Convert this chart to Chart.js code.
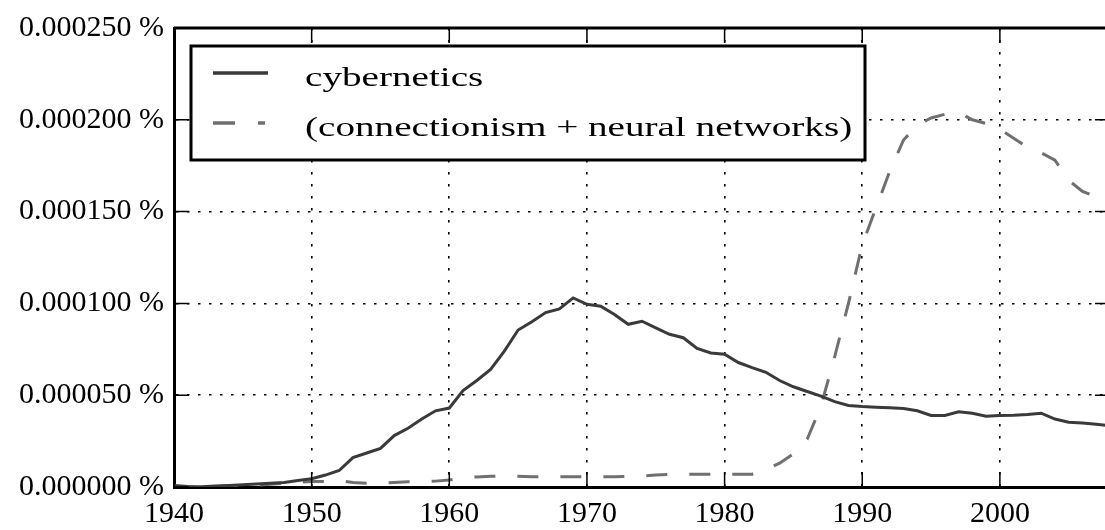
<!DOCTYPE html>
<html>
<head>
<meta charset="utf-8">
<script src="https://cdn.jsdelivr.net/npm/chart.js@4.4.1/dist/chart.umd.min.js"></script>
<style>
  html, body { margin: 0; padding: 0; overflow: hidden; background: #fff; }
  #wrap { position: relative; width: 1112px; height: 530px; }
</style>
</head>
<body>
<div id="wrap"><canvas id="chart"></canvas></div>
<script>
const years = [];
for (let yr = 1940; yr <= 2008; yr++) years.push(yr);

// values in millionths of a percent (100 = 0.000100 %)
const cybernetics = [
  0.8, 0.3, 0.2, 0.5, 0.8, 1.2, 1.6, 2.0, 2.5, 3.5,
  4.5, 6.5, 9.0, 16, 18.5, 21, 28, 32, 37, 41.5,
  43, 52.5, 58, 64, 74, 85.5, 90, 95, 97, 103,
  99.5, 98.5, 94, 88.6, 90.3, 86.7, 83.2, 81.3, 75.5, 73,
  72.3, 67.8, 65, 62.5, 58, 54.6, 52, 49.5, 46.5, 44.4,
  43.8, 43.5, 43.1, 42.7, 41.5, 39, 39, 41, 40.2, 38.6,
  39, 39.1, 39.5, 40.2, 37, 35.3, 34.8, 34.2, 33.3
];
const connectionism = [
  0, 0, 0, 0.2, 0.5, 0.8, 1.0, 1.5, 2.0, 2.5,
  3.0, 3.0, 3.5, 2.5, 2.0, 2.2, 2.5, 2.8, 2.9, 3.2,
  3.8, 5.0, 5.5, 5.8, 6.0, 5.8, 5.6, 5.6, 5.6, 5.6,
  5.6, 5.6, 5.6, 5.8, 6.0, 6.5, 6.8, 6.9, 6.9, 6.9,
  7.0, 7.0, 7.0, 9.5, 13, 18, 26, 44, 71, 100,
  132, 152, 172, 189, 197, 201, 203, 204, 200, 198,
  195, 190, 185, 182, 178, 167, 161, 158, 156
];

const seriesLabels = ["cybernetics", "(connectionism + neural networks)"];
const xTickLabels = ["1940", "1950", "1960", "1970", "1980", "1990", "2000"];
const yTickLabels = ["0.000000 %", "0.000050 %", "0.000100 %", "0.000150 %", "0.000200 %", "0.000250 %"];

const tickFont = { family: "'Liberation Serif', serif", size: 30 };

const framePlugin = {
  id: "frame",
  afterDatasetsDraw(chart) {
    const { ctx, chartArea: a, scales: { x, y } } = chart;
    ctx.save();
    ctx.strokeStyle = "#000";
    ctx.lineWidth = 1.5;
    ctx.beginPath();
    x.ticks.forEach(t => {
      const px = x.getPixelForValue(t.value);
      ctx.moveTo(px, a.bottom); ctx.lineTo(px, a.bottom - 15);
      ctx.moveTo(px, a.top); ctx.lineTo(px, a.top + 15);
    });
    y.ticks.forEach(t => {
      const py = y.getPixelForValue(t.value);
      ctx.moveTo(a.left, py); ctx.lineTo(a.left + 15, py);
      ctx.moveTo(a.right, py); ctx.lineTo(a.right - 15, py);
    });
    ctx.stroke();
    ctx.lineWidth = 3;
    ctx.beginPath();
    ctx.moveTo(a.left, a.top);
    ctx.lineTo(a.right, a.top);
    ctx.lineTo(a.right, a.bottom);
    ctx.stroke();
    ctx.restore();
  },
  afterDraw(chart) {
    const { ctx, chartArea: a } = chart;
    const bx = a.left + 17, by = a.top + 18, bw = 674, bh = 114;
    ctx.save();
    ctx.fillStyle = "#fff";
    ctx.fillRect(bx, by, bw, bh);
    ctx.strokeStyle = "#000";
    ctx.lineWidth = 3;
    ctx.strokeRect(bx, by, bw, bh);
    chart.data.datasets.forEach((ds, i) => {
      const ly = by + 27 + i * 50;
      ctx.save();
      ctx.strokeStyle = ds.borderColor;
      ctx.lineWidth = ds.borderWidth + 0.5;
      ctx.setLineDash(ds.borderDash ? [22, 23, 7, 50] : []);
      ctx.beginPath();
      ctx.moveTo(bx + 22, ly);
      ctx.lineTo(bx + 77, ly);
      ctx.stroke();
      ctx.restore();
      ctx.save();
      ctx.fillStyle = "#000";
      ctx.font = "27px 'Liberation Serif', serif";
      ctx.textBaseline = "alphabetic";
      ctx.translate(bx + 114, ly + 13);
      ctx.scale(1.45, 1);
      ctx.fillText(ds.label, 0, 0);
      ctx.restore();
    });
    ctx.restore();
  }
};

const chart = new Chart(document.getElementById("chart"), {
  type: "line",
  data: {
    datasets: [
      {
        label: seriesLabels[0],
        data: years.map((yr, i) => ({ x: yr, y: cybernetics[i] })),
        borderColor: "#3a3a3a",
        borderWidth: 3,
        pointRadius: 0,
        tension: 0,
        fill: false
      },
      {
        label: seriesLabels[1],
        data: years.map((yr, i) => ({ x: yr, y: connectionism[i] })),
        borderColor: "#707070",
        borderWidth: 3,
        borderDash: [21, 22],
        pointRadius: 0,
        tension: 0,
        fill: false
      }
    ]
  },
  options: {
    responsive: true,
    maintainAspectRatio: false,
    animation: false,
    layout: { padding: { left: 0, top: 25, right: 2, bottom: 0 } },
    plugins: { legend: { display: false }, tooltip: { enabled: false } },
    scales: {
      x: {
        type: "linear",
        min: 1940,
        max: 2008,
        afterFit(s) { s.height = 43; },
        ticks: {
          stepSize: 10,
          includeBounds: false,
          padding: 9,
          color: "#000",
          font: tickFont,
          maxRotation: 0,
          callback: (v, i) => xTickLabels[i]
        },
        grid: { color: "#000", lineWidth: 1.6, drawTicks: false },
        border: { display: true, color: "#000", width: 3, dash: [2.5, 9.5] }
      },
      y: {
        min: 0,
        max: 250,
        afterFit(s) { s.width = 174; },
        ticks: {
          stepSize: 50,
          padding: 10,
          color: "#000",
          font: tickFont,
          callback: (v, i) => yTickLabels[i]
        },
        grid: { color: "#000", lineWidth: 1.6, drawTicks: false },
        border: { display: true, color: "#000", width: 3, dash: [2.5, 8.5] }
      }
    }
  },
  plugins: [framePlugin]
});
</script>
</body>
</html>
